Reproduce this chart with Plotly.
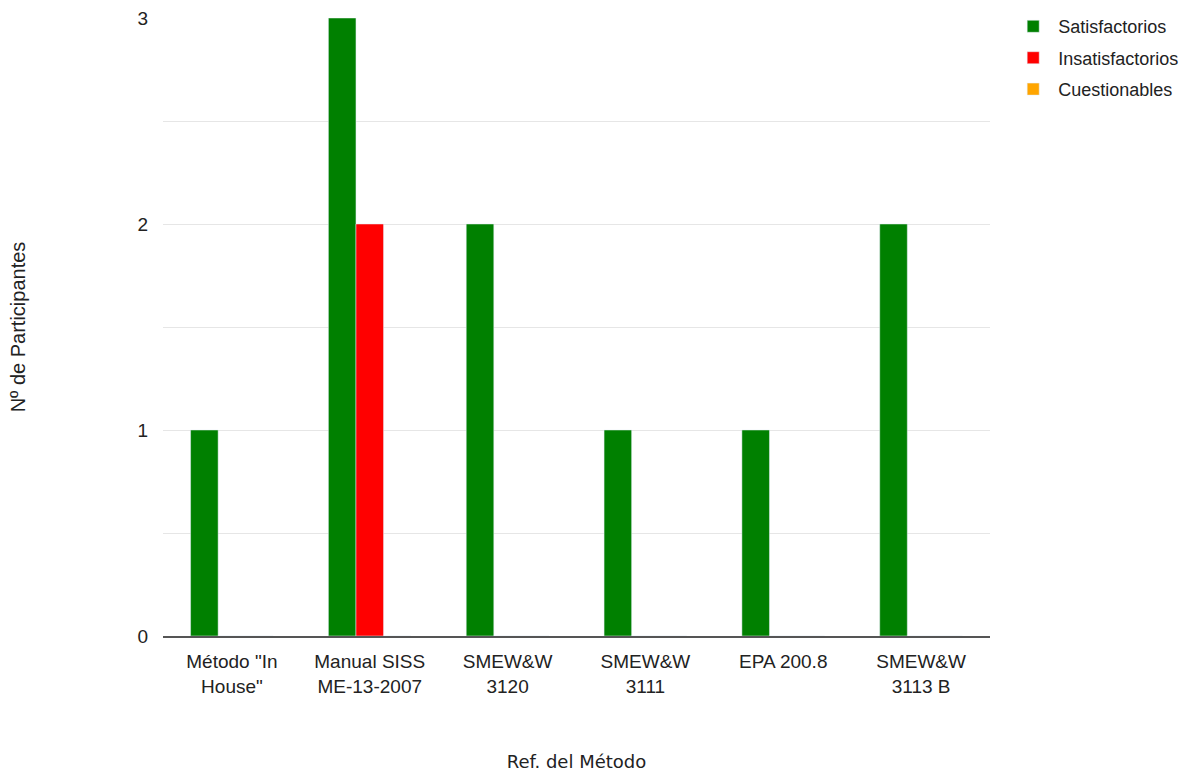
import plotly.graph_objects as go

categories = ['Método "In<br>House"', 'Manual SISS<br>ME-13-2007', 'SMEW&W<br>3120',
              'SMEW&W<br>3111', 'EPA 200.8', 'SMEW&W<br>3113 B']
satisfactorios = [1, 3, 2, 1, 1, 2]
insatisfactorios = [0, 2, 0, 0, 0, 0]
cuestionables = [0, 0, 0, 0, 0, 0]
y_tickvals = [0, 0.5, 1, 1.5, 2, 2.5, 3]
y_ticktext = ['0', '', '1', '', '2', '', '3']

fig = go.Figure()
fig.add_bar(x=categories, y=satisfactorios, name='Satisfactorios', marker_color='#008000', legendgroup='a')
fig.add_bar(x=categories, y=insatisfactorios, name='Insatisfactorios', marker_color='#ff0000', legendgroup='b')
fig.add_bar(x=categories, y=cuestionables, name='Cuestionables', marker_color='#ffa500', legendgroup='c')

fig.update_layout(
    width=1194, height=772,
    margin=dict(l=163, r=204, t=18, b=136, autoexpand=False),
    paper_bgcolor='white', plot_bgcolor='white',
    barmode='group', bargap=0.4, bargroupgap=0,
    font=dict(family='Liberation Sans, Arial, sans-serif', size=19, color='#222222'),
    legend=dict(x=1.022, y=1.016, xanchor='left', yanchor='top', itemwidth=40,
                font=dict(size=18, color='#222222'), tracegroupgap=5),
    showlegend=True,
)
fig.update_xaxes(
    automargin=False,
    showline=True, linecolor='#555555', linewidth=2,
    showgrid=False, ticks='', tickfont=dict(size=19, color='#222222'),
    ticklabelstandoff=7,
    title=dict(text='Ref. del Método', standoff=66,
               font=dict(family='DejaVu Sans, Verdana, sans-serif', size=18, color='#222222')),
)
fig.update_yaxes(
    automargin=False,
    range=[0, 3], tickvals=y_tickvals, ticktext=y_ticktext,
    showgrid=True, gridcolor='#e6e6e6', gridwidth=1,
    zeroline=False, showline=False, ticks='',
    tickfont=dict(size=19, color='#222222'), ticklabelstandoff=14,
    title=dict(text='Nº de Participantes', standoff=106,
               font=dict(family='Liberation Sans, Arial, sans-serif', size=20, color='#222222')),
)

fig.write_html('out.html')
